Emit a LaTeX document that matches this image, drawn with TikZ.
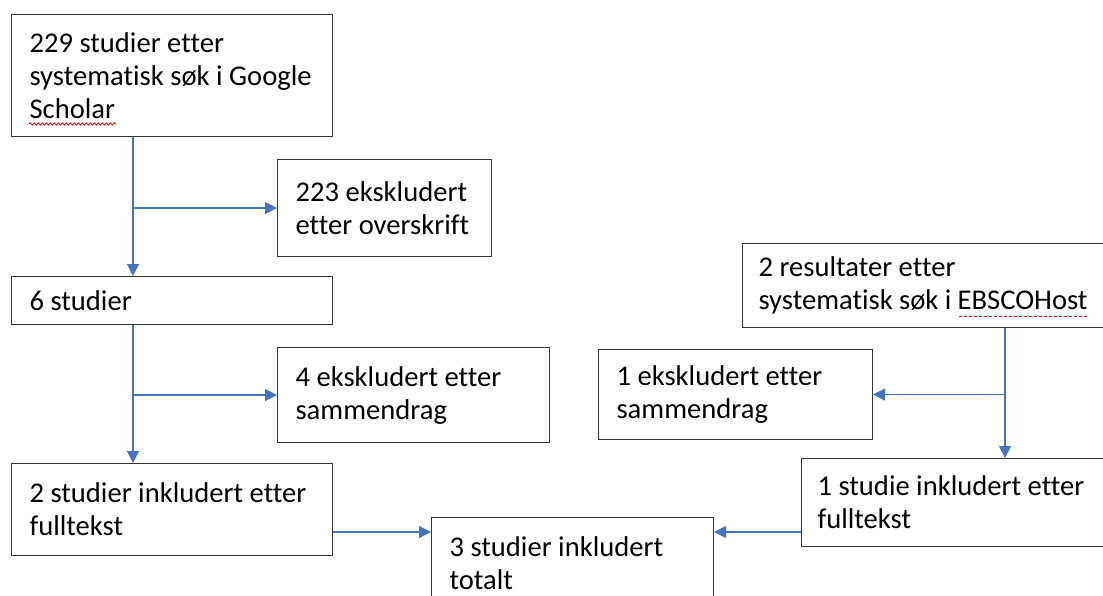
\documentclass[tikz,border=0pt]{standalone}
\usepackage{fontspec}
\setmainfont{Carlito}[Ligatures=NoCommon]
\usetikzlibrary{positioning}
\usetikzlibrary{arrows.meta}
\usetikzlibrary{decorations.pathmorphing}
\definecolor{pilblaa}{HTML}{4472C4}

\begin{document}
\begin{tikzpicture}[x=1pt,y=-1pt,
  boks/.style={draw=black!80, line width=1.1pt, anchor=north west, inner xsep=18pt, inner ysep=0pt, align=flush left, font=\fontsize{28.6}{33}\selectfont},
  pil/.style={draw=pilblaa, line width=1.2pt, -{Triangle[length=12pt,width=12pt]}, fill=pilblaa}]
%frame
\clip (0,0) rectangle (1103,595);
\fill[white] (0,0) rectangle (1103,595);
%left column
\node[boks, text width=285pt, minimum height=122pt](gs) at (11,14){229 studier etter\\systematisk søk i Google\\Scholar};
\node[boks, text width=178pt, minimum height=97pt](ekskl1) at (277,159){223 ekskludert\\etter overskrift};
\node[boks, text width=285pt, minimum height=48pt](seks) at (11,276){6 studier};
\node[boks, text width=236pt, minimum height=95pt](ekskl2) at (277,347){4 ekskludert etter\\sammendrag};
\node[boks, text width=285pt, minimum height=92pt](inkl1) at (11,463){2 studier inkludert etter\\fulltekst};
%bottom
\node[boks, text width=246pt, minimum height=92pt](totalt) at (431,517){3 studier inkludert\\totalt};
%right column
\node[boks, inner xsep=16pt, text width=329pt, minimum height=84pt](ebsco) at (742,243){2 resultater etter\\systematisk søk i EBSCOHost};
\node[boks, text width=238pt, minimum height=90pt](ekskl3) at (598,349){1 ekskludert etter\\sammendrag};
\node[boks, inner xsep=16pt, text width=270pt, minimum height=88pt](inkl2) at (801,458){1 studie inkludert etter\\fulltekst};
%spell check marks
\draw[red, line width=0.8pt, decorate, decoration={snake, amplitude=1.2pt, segment length=4pt}] (29,124) -- (116,124);
\draw[red, line width=0.8pt, dash pattern=on 3pt off 2pt] (959,316) -- (1088,316);
%arrow anchors
\coordinate (venstre) at (133,0);
\coordinate (hoyre) at (1005,0);
\coordinate (bunn) at (0,532);
%arrows
\draw[pil] (gs.south -| venstre) -- (seks.north -| venstre);
\draw[pil] (venstre |- ekskl1.west) -- (ekskl1.west);
\draw[pil] (seks.south -| venstre) -- (inkl1.north -| venstre);
\draw[pil] (venstre |- ekskl2.west) -- (ekskl2.west);
\draw[pil] (ebsco.south -| hoyre) -- (inkl2.north -| hoyre);
\draw[pil] (hoyre |- ekskl3.east) -- (ekskl3.east);
\draw[pil] (inkl1.east |- bunn) -- (totalt.west |- bunn);
\draw[pil] (inkl2.west |- bunn) -- (totalt.east |- bunn);
\end{tikzpicture}
\end{document}
